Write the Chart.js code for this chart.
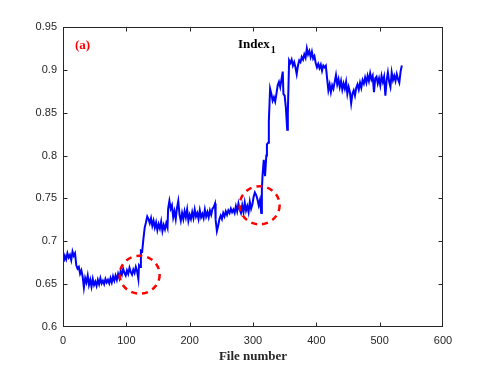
<!DOCTYPE html>
<html>
<head>
<meta charset="utf-8">
<script src="https://cdn.jsdelivr.net/npm/chart.js@4.4.1/dist/chart.umd.min.js"></script>
<style>
  html, body { margin: 0; padding: 0; background: #fff; }
  canvas { display: block; }
</style>
</head>
<body>
<canvas id="chart" width="491" height="367"></canvas>
<script>
// values
const fileNo = [
  1, 3, 5, 7, 9, 11, 13, 15, 17, 19, 21, 23, 25, 27, 29, 31, 33, 35, 37, 39,
  41, 43, 45, 47, 49, 51, 53, 55, 57, 59, 61, 63, 65, 67, 69, 71, 73, 75, 77, 79,
  81, 83, 85, 87, 89, 91, 93, 95, 97, 99, 101, 103, 105, 107, 109, 111, 113, 115, 117, 119,
  120, 122, 123, 125, 127, 129, 131, 133, 135, 137, 139, 141, 143, 145, 147, 149, 151, 153, 155, 157,
  159, 161, 163, 165, 166, 168, 170, 172, 174, 176, 178, 180, 182, 184, 186, 188, 190, 192, 194, 196,
  198, 200, 202, 204, 206, 208, 210, 212, 214, 216, 218, 220, 222, 224, 226, 228, 230, 232, 234, 236,
  238, 240, 241, 243, 245, 247, 249, 251, 253, 255, 257, 259, 261, 263, 265, 267, 269, 271, 273, 275,
  277, 279, 281, 283, 285, 287, 289, 291, 293, 295, 297, 299, 301, 303, 305, 307, 309, 311, 313, 314,
  315, 317, 319, 321, 322, 324, 325, 327, 329, 331, 333, 335, 337, 339, 341, 343, 345, 347, 348, 350,
  352, 354, 355, 357, 359, 361, 363, 365, 367, 369, 371, 373, 375, 377, 379, 381, 383, 385, 387, 389,
  391, 393, 395, 397, 399, 401, 403, 405, 407, 409, 411, 413, 415, 417, 419, 421, 423, 425, 427, 429,
  431, 433, 435, 437, 439, 441, 443, 445, 447, 449, 451, 453, 455, 457, 459, 461, 463, 465, 467, 469,
  471, 473, 475, 477, 479, 481, 483, 485, 487, 489, 491, 493, 495, 497, 499, 501, 503, 505, 507, 509,
  511, 513, 515, 517, 519, 521, 523, 525, 527, 529, 531, 533, 535
];
const index1 = [
  0.676, 0.683, 0.679, 0.686, 0.681, 0.684, 0.678, 0.688, 0.683, 0.686, 0.672, 0.668, 0.670, 0.662, 0.666, 0.659, 0.646, 0.657, 0.652, 0.660,
  0.649, 0.655, 0.647, 0.656, 0.649, 0.653, 0.648, 0.655, 0.650, 0.657, 0.651, 0.654, 0.650, 0.656, 0.652, 0.655, 0.651, 0.657, 0.652, 0.659,
  0.654, 0.660, 0.655, 0.662, 0.657, 0.665, 0.661, 0.668, 0.663, 0.660, 0.666, 0.662, 0.669, 0.664, 0.661, 0.667, 0.663, 0.670, 0.665, 0.656,
  0.672, 0.670, 0.689, 0.688, 0.703, 0.716, 0.722, 0.729, 0.726, 0.721, 0.727, 0.718, 0.724, 0.716, 0.722, 0.713, 0.720, 0.715, 0.723, 0.712,
  0.719, 0.714, 0.721, 0.716, 0.738, 0.747, 0.738, 0.742, 0.728, 0.735, 0.726, 0.739, 0.747, 0.731, 0.724, 0.733, 0.726, 0.735, 0.728, 0.737,
  0.724, 0.731, 0.726, 0.734, 0.727, 0.737, 0.729, 0.733, 0.726, 0.736, 0.728, 0.732, 0.727, 0.737, 0.729, 0.734, 0.728, 0.736, 0.731, 0.738,
  0.740, 0.744, 0.725, 0.712, 0.718, 0.726, 0.730, 0.726, 0.733, 0.729, 0.735, 0.731, 0.736, 0.733, 0.738, 0.734, 0.737, 0.733, 0.741, 0.735,
  0.744, 0.737, 0.733, 0.742, 0.734, 0.745, 0.736, 0.741, 0.734, 0.746, 0.738, 0.743, 0.752, 0.757, 0.754, 0.749, 0.742, 0.748, 0.733, 0.760,
  0.776, 0.795, 0.776, 0.800, 0.813, 0.815, 0.840, 0.878, 0.872, 0.864, 0.868, 0.863, 0.872, 0.882, 0.886, 0.880, 0.889, 0.898, 0.872, 0.870,
  0.855, 0.830, 0.850, 0.911, 0.908, 0.912, 0.905, 0.909, 0.903, 0.895, 0.905, 0.911, 0.909, 0.915, 0.912, 0.918, 0.914, 0.925, 0.918, 0.922,
  0.915, 0.921, 0.913, 0.916, 0.908, 0.903, 0.907, 0.902, 0.906, 0.899, 0.905, 0.903, 0.905, 0.890, 0.876, 0.883, 0.874, 0.882, 0.878, 0.886,
  0.894, 0.883, 0.889, 0.880, 0.887, 0.877, 0.884, 0.878, 0.886, 0.872, 0.880, 0.874, 0.861, 0.872, 0.876, 0.870, 0.879, 0.883, 0.877, 0.885,
  0.879, 0.888, 0.884, 0.891, 0.885, 0.893, 0.887, 0.896, 0.889, 0.893, 0.874, 0.890, 0.892, 0.884, 0.890, 0.882, 0.893, 0.886, 0.892, 0.870,
  0.888, 0.897, 0.886, 0.880, 0.897, 0.888, 0.893, 0.887, 0.895, 0.889, 0.885, 0.898, 0.905
];

// dashed circles marking the jumps: [file number, index value]
const marks = [[121, 0.661], [310.5, 0.742]];

const xTicks = [0, 100, 200, 300, 400, 500, 600];
const yTicks = [0.6, 0.65, 0.7, 0.75, 0.8, 0.85, 0.9, 0.95];

const axisColor = '#262626';

const boxPlugin = {
  id: 'matlabBox',
  afterDatasetsDraw(chart) {
    const { ctx, chartArea: a, scales: { x, y } } = chart;
    const l = a.left + 0.5, r = a.right - 0.5, t = a.top + 0.5, b = a.bottom - 0.5;
    ctx.save();
    ctx.strokeStyle = axisColor;
    ctx.lineWidth = 1;
    ctx.strokeRect(l, t, r - l, b - t);
    ctx.beginPath();
    xTicks.forEach(v => {
      const px = Math.min(Math.max(Math.round(x.getPixelForValue(v)) + 0.5, l), r);
      ctx.moveTo(px, b); ctx.lineTo(px, b - 4);
      ctx.moveTo(px, t); ctx.lineTo(px, t + 4);
    });
    yTicks.forEach(v => {
      const py = Math.min(Math.max(Math.round(y.getPixelForValue(v)) + 0.5, t), b);
      ctx.moveTo(l, py); ctx.lineTo(l + 4, py);
      ctx.moveTo(r, py); ctx.lineTo(r - 4, py);
    });
    ctx.stroke();

    // red dashed ellipses
    ctx.strokeStyle = '#ff0000';
    ctx.lineWidth = 2.5;
    ctx.setLineDash([6, 5]);
    marks.forEach(([f, v]) => {
      ctx.beginPath();
      ctx.ellipse(x.getPixelForValue(f), y.getPixelForValue(v), 20, 19, 0, 0, Math.PI * 2);
      ctx.stroke();
    });
    ctx.setLineDash([]);

    // panel letter and series name
    ctx.textBaseline = 'alphabetic';
    ctx.font = 'bold 13px "Liberation Serif", "Times New Roman", serif';
    ctx.fillStyle = '#ff0000';
    ctx.fillText('(a)', a.left + 12, a.top + 22);
    ctx.fillStyle = '#000';
    ctx.fillText('Index', a.left + 175, a.top + 21);
    const w = ctx.measureText('Index').width;
    ctx.font = 'bold 10px "Liberation Serif", "Times New Roman", serif';
    ctx.fillText('1', a.left + 175 + w + 1, a.top + 26);
    ctx.restore();
  }
};

new Chart(document.getElementById('chart'), {
  type: 'line',
  data: {
    datasets: [{
      label: 'Index1',
      data: fileNo.map((f, i) => ({ x: f, y: index1[i] })),
      borderColor: '#0000ff',
      borderWidth: 2,
      pointRadius: 0,
      tension: 0,
      fill: false
    }]
  },
  options: {
    responsive: false,
    animation: false,
    layout: { padding: { top: 27, right: 48, left: 0, bottom: 0 } },
    plugins: { legend: { display: false }, tooltip: { enabled: false } },
    scales: {
      x: {
        type: 'linear',
        min: 0, max: 600,
        afterBuildTicks: s => { s.ticks = xTicks.map(v => ({ value: v })); },
        afterFit: s => { s.height = 40; },
        grid: { display: false, drawTicks: false },
        border: { display: false },
        ticks: {
          padding: 7,
          color: axisColor,
          font: { family: '"Liberation Sans", Arial, sans-serif', size: 11 },
          maxRotation: 0
        },
        title: {
          display: true,
          text: 'File number',
          color: axisColor,
          font: { family: '"Liberation Serif", "Times New Roman", serif', size: 13, weight: 'bold' },
          padding: { top: 0, bottom: 3 }
        }
      },
      y: {
        type: 'linear',
        min: 0.6, max: 0.95,
        afterBuildTicks: s => { s.ticks = yTicks.map(v => ({ value: v })); },
        afterFit: s => { s.width = 63; },
        grid: { display: false, drawTicks: false },
        border: { display: false },
        ticks: {
          padding: 6,
          color: axisColor,
          font: { family: '"Liberation Sans", Arial, sans-serif', size: 11 },
          callback: v => String(+v.toFixed(2))
        }
      }
    }
  },
  plugins: [boxPlugin]
});
</script>
</body>
</html>
